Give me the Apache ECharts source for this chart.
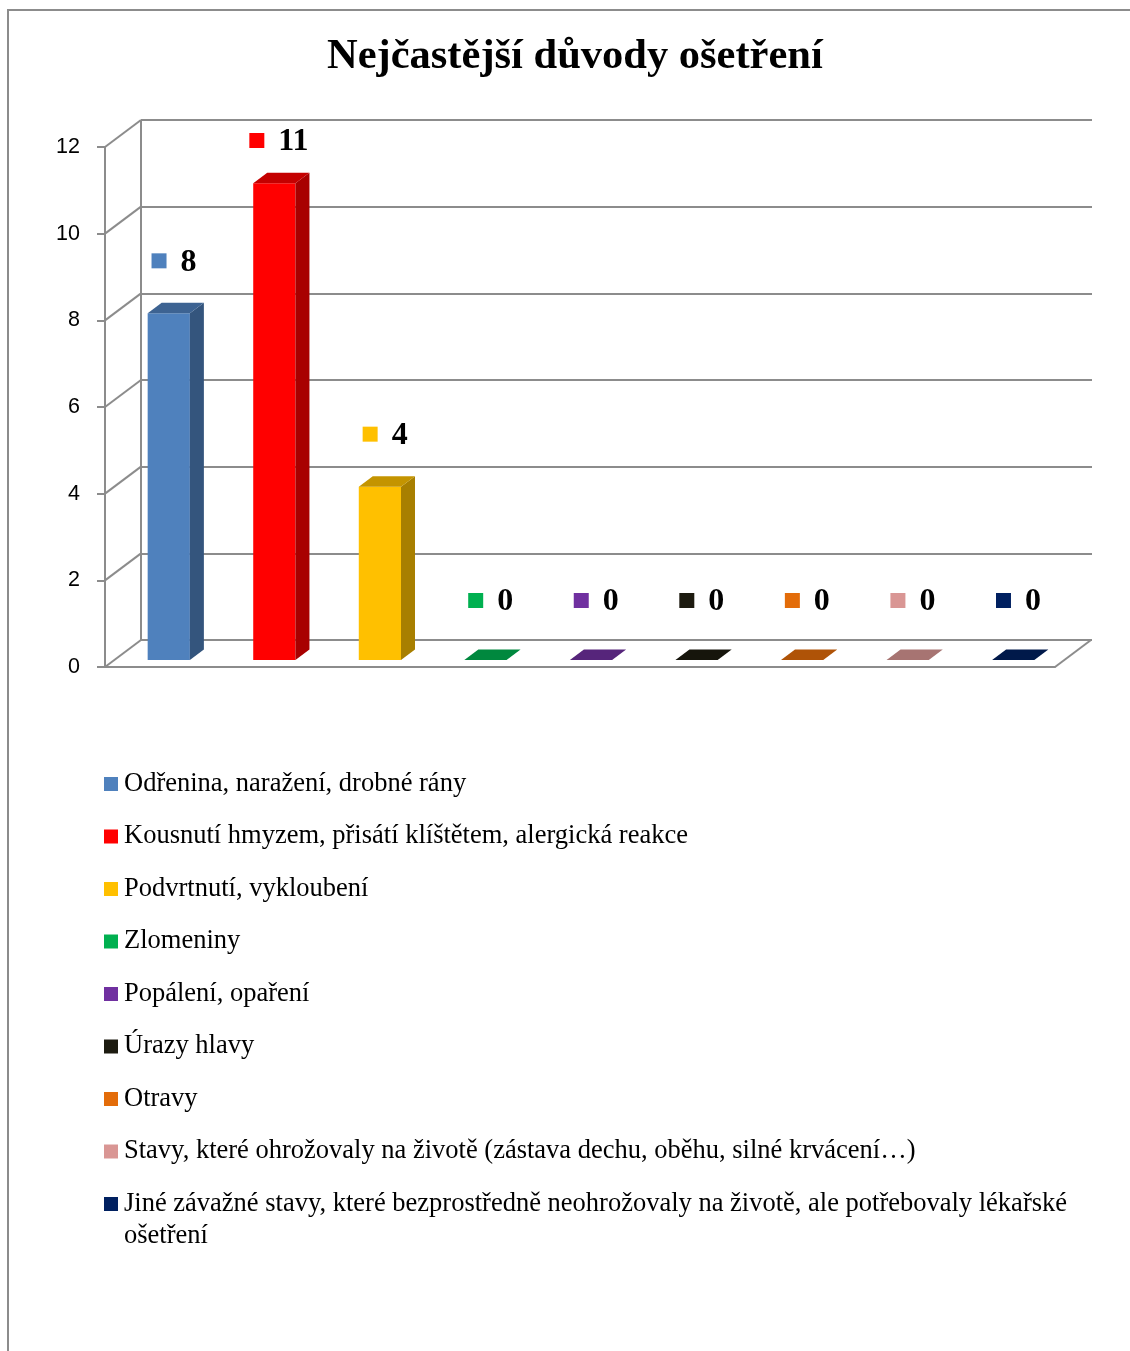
<!DOCTYPE html>
<html><head><meta charset="utf-8">
<script src="https://cdn.jsdelivr.net/npm/echarts@6/dist/echarts.min.js"></script>
<style>html,body{margin:0;padding:0;background:#fff}#c{width:1130px;height:1351px}</style>
</head><body><div id="c"></div>
<script>
var chartTitle = 'Nejčastější důvody ošetření';
var categories = [
  'Odřenina, naražení, drobné rány',
  'Kousnutí hmyzem, přisátí klíštětem, alergická reakce',
  'Podvrtnutí, vykloubení',
  'Zlomeniny',
  'Popálení, opaření',
  'Úrazy hlavy',
  'Otravy',
  'Stavy, které ohrožovaly na životě (zástava dechu, oběhu, silné krvácení…)',
  'Jiné závažné stavy, které bezprostředně neohrožovaly na životě, ale potřebovaly lékařské ošetření'
];
var values = [8, 11, 4, 0, 0, 0, 0, 0, 0];
var colors = ['#4F81BD','#FF0000','#FFC000','#00B050','#7030A0','#1D1B10','#E36C09','#D99694','#002060'];
var yTicks = [0, 2, 4, 6, 8, 10, 12];

var GRID = '#8c8c8c';
var WALL_DX = 36, WALL_DY = -27;   // back wall offset
var BAR_DX = 11, BAR_DY = -7;      // bar front-face depth
var DEP_DX = 14, DEP_DY = -10.5;   // bar depth
var SERIF = '"Liberation Serif", "Times New Roman", serif';
var LEGEND_FONT = '26.5px ' + SERIF;

function shade(hex, f) {
  var n = parseInt(hex.slice(1), 16);
  var r = Math.round(((n >> 16) & 255) * f), g = Math.round(((n >> 8) & 255) * f), b = Math.round((n & 255) * f);
  return 'rgb(' + r + ',' + g + ',' + b + ')';
}

var measureCtx = document.createElement('canvas').getContext('2d');
function wrapText(text, font, maxW) {
  measureCtx.font = font;
  var words = text.split(' '), lines = [], cur = '';
  words.forEach(function (w) {
    var t = cur ? cur + ' ' + w : w;
    if (cur && measureCtx.measureText(t).width > maxW) { lines.push(cur); cur = w; }
    else cur = t;
  });
  if (cur) lines.push(cur);
  return lines.join('\n');
}

function renderWalls(params, api) {
  var cs = params.coordSys;
  var v = api.value(1);
  var p = api.coord([0, v]);
  var children = [{
    type: 'line',
    shape: { x1: cs.x, y1: p[1], x2: cs.x + WALL_DX, y2: p[1] + WALL_DY },
    style: { stroke: GRID, lineWidth: 2 }
  }];
  if (v === 0) {
    var top = api.coord([0, yTicks[yTicks.length - 1]]);
    children.push({
      type: 'line',
      shape: { x1: cs.x + cs.width, y1: p[1], x2: cs.x + cs.width + WALL_DX, y2: p[1] + WALL_DY },
      style: { stroke: GRID, lineWidth: 2 }
    });
    children.push({
      type: 'line',
      shape: { x1: cs.x + WALL_DX, y1: p[1] + WALL_DY, x2: cs.x + WALL_DX, y2: top[1] + WALL_DY },
      style: { stroke: GRID, lineWidth: 2 }
    });
  }
  return { type: 'group', children: children };
}

function renderBar(params, api) {
  var idx = api.value(0), val = api.value(1);
  var base = api.coord([idx, 0]);
  var topP = api.coord([idx, val]);
  var bw = api.size([1, 0])[0] * 0.4;
  var c = colors[idx];
  var cx = base[0] + BAR_DX;
  var x0 = cx - bw / 2, x1 = cx + bw / 2;
  var yb = base[1] + BAR_DY, yt = topP[1] + BAR_DY;
  var children = [];
  if (yb - yt > 0.5) {
    children.push({ type: 'rect', shape: { x: x0, y: yt, width: bw, height: yb - yt }, style: { fill: c } });
    children.push({ type: 'polygon', shape: { points: [[x1, yt], [x1 + DEP_DX, yt + DEP_DY], [x1 + DEP_DX, yb + DEP_DY], [x1, yb]] }, style: { fill: shade(c, 0.66) } });
  }
  children.push({ type: 'polygon', shape: { points: [[x0, yt], [x0 + DEP_DX, yt + DEP_DY], [x1 + DEP_DX, yt + DEP_DY], [x1, yt]] }, style: { fill: shade(c, 0.77) } });
  // data label: colour key + value
  var txt = String(val);
  var tw = 15.5 * txt.length;
  var gw = 15 + 14 + tw;
  var ly = Math.max(141, yt - (val === 0 ? 59 : 52));
  var gl = cx + 5 - gw / 2;
  children.push({ type: 'rect', shape: { x: gl, y: ly - 8, width: 15, height: 15 }, style: { fill: c } });
  children.push({ type: 'text', x: gl + 29, y: ly + 1, style: { text: txt, font: 'bold 32px ' + SERIF, fill: '#000', verticalAlign: 'middle', align: 'left' } });
  return { type: 'group', children: children };
}

var legendGraphics = [];
categories.forEach(function (name, i) {
  var yc = 784 + i * 52.5;
  legendGraphics.push({ type: 'rect', shape: { x: 104, y: yc - 7, width: 14, height: 14 }, style: { fill: colors[i] } });
  legendGraphics.push({ type: 'text', x: 124, y: yc - 16, style: { text: wrapText(name, LEGEND_FONT, 960), font: LEGEND_FONT, fill: '#000', verticalAlign: 'top', lineHeight: 32 } });
});

var chart = echarts.init(document.getElementById('c'));
chart.setOption({
  animation: false,
  backgroundColor: '#fff',
  title: {
    text: chartTitle, left: 322, top: 31,
    textStyle: { fontFamily: SERIF, fontWeight: 'bold', fontSize: 42.5, color: '#000' }
  },
  grid: [
    { left: 105, top: 147, width: 950, height: 520 },
    { left: 141, top: 120, width: 951, height: 520 }
  ],
  xAxis: [
    { gridIndex: 0, type: 'category', data: categories, axisLine: { show: true, lineStyle: { color: GRID, width: 2 } }, axisTick: { show: false }, axisLabel: { show: false }, splitLine: { show: false } },
    { gridIndex: 1, type: 'category', data: categories, show: false }
  ],
  yAxis: [
    { gridIndex: 0, type: 'value', min: 0, max: 12, interval: 2,
      axisLine: { show: true, lineStyle: { color: GRID, width: 2 } },
      axisTick: { show: true, length: 8, lineStyle: { color: GRID, width: 2 } },
      axisLabel: { fontFamily: '"Liberation Sans", Arial, sans-serif', fontSize: 21.5, color: '#000', margin: 25 },
      splitLine: { show: false } },
    { gridIndex: 1, type: 'value', min: 0, max: 12, interval: 2,
      axisLine: { show: false }, axisTick: { show: false }, axisLabel: { show: false },
      splitLine: { show: true, lineStyle: { color: GRID, width: 2 } } }
  ],
  series: [
    { type: 'custom', xAxisIndex: 0, yAxisIndex: 0, clip: false, silent: true, z: 1,
      data: yTicks.map(function (v) { return [0, v]; }), renderItem: renderWalls },
    { type: 'custom', xAxisIndex: 0, yAxisIndex: 0, clip: false, z: 3,
      data: values.map(function (v, i) { return [i, v]; }), renderItem: renderBar }
  ],
  graphic: [
    { type: 'polyline', shape: { points: [[8, 1351], [8, 10], [1130, 10]] }, style: { stroke: '#8c8c8c', lineWidth: 2, fill: null } }
  ].concat(legendGraphics)
});
</script></body></html>
